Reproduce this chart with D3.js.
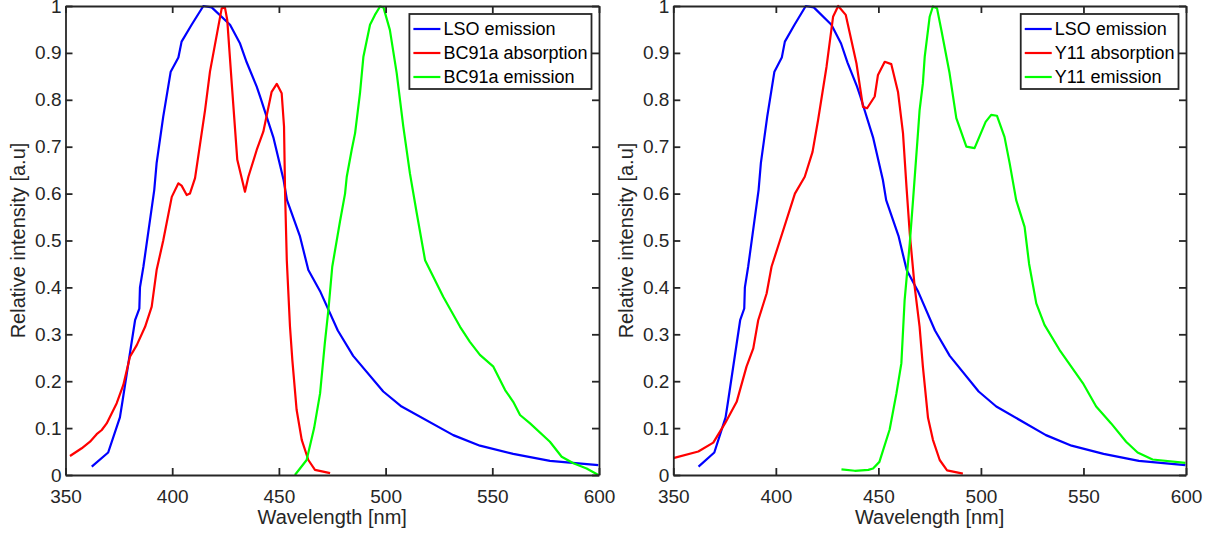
<!DOCTYPE html>
<html lang="en">
<head>
<meta charset="UTF-8">
<title>LSO / WLS spectra</title>
<script src="https://d3js.org/d3.v7.min.js"></script>
<style>
  body { margin: 0; background: #fff; }
  svg { display: block; font-family: "Liberation Sans", Arial, Helvetica, sans-serif; }
  .axis path, .axis line { stroke: #262626; stroke-width: 1.8; }
  .axis text { fill: #262626; font-size: 19px; font-family: "Liberation Sans", Arial, Helvetica, sans-serif; }
  .label { fill: #262626; font-size: 20px; }
  .legend text { fill: #000; font-size: 18px; }
  .curve { fill: none; stroke-width: 2.2; stroke-linejoin: round; }
</style>
</head>
<body>
<script>
// LSO emission (same in both panels)
var lsoWl  = [362.3, 370, 375.5, 376.8, 382.6, 384.6, 384.9, 386.5, 391.6, 392.7, 395.8, 399.3, 402.9, 404.4, 409.1, 414.6, 418.5, 427.1, 431.8, 434.9, 439.6, 441.2, 447.4, 452.2, 453.8, 459.8, 463.8, 469.5, 477.6, 484.8, 498.9, 507.5, 531.7, 544.2, 559.8, 577, 599.7];
var lsoVal = [0.018, 0.048, 0.123, 0.16, 0.33, 0.355, 0.40, 0.444, 0.608, 0.665, 0.764, 0.86, 0.89, 0.924, 0.96, 1.0, 0.997, 0.96, 0.92, 0.88, 0.828, 0.807, 0.72, 0.629, 0.586, 0.51, 0.437, 0.39, 0.308, 0.254, 0.178, 0.146, 0.085, 0.0625, 0.045, 0.03, 0.021];

// BC91a absorption
var bcAbsWl  = [352.1, 357.6, 361.5, 364.6, 367, 369.3, 374, 377.1, 380.2, 383.4, 387.3, 390.4, 392.7, 395.8, 399.8, 402.9, 404.4, 406.8, 408.3, 410.7, 413, 415.4, 417.7, 421.6, 423.2, 424.7, 425.8, 427.9, 430.5, 434.1, 435.7, 439.6, 442.7, 446.6, 449, 451.3, 452.4, 452.9, 453.7, 455.2, 456.3, 458.3, 460.7, 463.8, 466.9, 474];
var bcAbsVal = [0.0405, 0.057, 0.071, 0.087, 0.096, 0.11, 0.153, 0.192, 0.252, 0.277, 0.316, 0.359, 0.437, 0.50, 0.593, 0.622, 0.617, 0.597, 0.60, 0.633, 0.704, 0.778, 0.86, 0.956, 0.995, 0.997, 0.97, 0.835, 0.672, 0.604, 0.636, 0.693, 0.732, 0.817, 0.834, 0.814, 0.743, 0.60, 0.458, 0.316, 0.245, 0.139, 0.075, 0.032, 0.011, 0.004];

// BC91a emission
var bcEmWl  = [457.5, 463, 466.5, 469.3, 471.5, 473.2, 475, 478.6, 481, 481.8, 484.1, 485.7, 488, 489.6, 492.7, 495, 497.4, 499, 502, 505.2, 508.3, 511.4, 514.6, 518.5, 527, 534.9, 539.5, 544.2, 550.5, 556, 559.8, 563, 567.7, 577, 582.5, 588, 594.2, 599.7];
var bcEmVal = [0, 0.032, 0.10, 0.174, 0.28, 0.352, 0.444, 0.54, 0.60, 0.636, 0.693, 0.729, 0.814, 0.892, 0.96, 0.981, 0.999, 0.997, 0.949, 0.857, 0.743, 0.643, 0.558, 0.458, 0.38, 0.316, 0.284, 0.256, 0.231, 0.181, 0.156, 0.128, 0.11, 0.071, 0.039, 0.025, 0.014, 0];

// Y11 absorption
var yAbsWl  = [350, 362.2, 369.5, 375.2, 380.9, 385.7, 389, 391.4, 395.5, 397.9, 402, 409.3, 414.1, 417.9, 420.6, 424.7, 427.9, 430.4, 434.1, 439.3, 442.5, 444.5, 448.2, 449.8, 453.1, 456.3, 459.6, 462, 463.7, 465.3, 467.7, 470.1, 471.7, 474.2, 476.6, 479.9, 483.5, 491.2];
var yAbsVal = [0.036, 0.05, 0.069, 0.11, 0.156, 0.231, 0.27, 0.33, 0.387, 0.444, 0.50, 0.60, 0.636, 0.689, 0.757, 0.87, 0.977, 1.0, 0.981, 0.878, 0.785, 0.782, 0.807, 0.853, 0.881, 0.876, 0.816, 0.729, 0.615, 0.515, 0.401, 0.316, 0.231, 0.122, 0.075, 0.032, 0.01, 0.003];

// Y11 emission
var yEmWl  = [432, 438.5, 445.1, 447.4, 450.5, 455.5, 458.8, 461.2, 462.8, 465.3, 466.9, 469.3, 470.1, 471.7, 472.6, 475, 476.6, 478.6, 480.7, 484.7, 488, 492.9, 496.9, 502.3, 505, 507.8, 511.5, 514, 517.2, 521.3, 523.5, 527, 531, 538.3, 549.7, 556.2, 563.5, 570.8, 576.4, 583.7, 599.7];
var yEmVal = [0.012, 0.009, 0.011, 0.014, 0.028, 0.097, 0.174, 0.238, 0.373, 0.494, 0.586, 0.729, 0.778, 0.835, 0.892, 0.977, 0.999, 0.995, 0.949, 0.857, 0.761, 0.70, 0.697, 0.753, 0.768, 0.766, 0.721, 0.665, 0.586, 0.529, 0.45, 0.366, 0.32, 0.267, 0.196, 0.146, 0.11, 0.071, 0.048, 0.033, 0.026];

var xTicks = [350, 400, 450, 500, 550, 600];
var yTicks = [0, 0.1, 0.2, 0.3, 0.4, 0.5, 0.6, 0.7, 0.8, 0.9, 1];

var panels = [
  { left: 65.5, right: 599, labelX: 25,
    series: [
      { name: "LSO emission", wl: lsoWl, val: lsoVal, color: "#0000ff" },
      { name: "BC91a absorption", wl: bcAbsWl, val: bcAbsVal, color: "#ff0000" },
      { name: "BC91a emission", wl: bcEmWl, val: bcEmVal, color: "#00ff00" }
    ] },
  { left: 673.3, right: 1186, labelX: 633,
    series: [
      { name: "LSO emission", wl: lsoWl, val: lsoVal, color: "#0000ff" },
      { name: "Y11 absorption", wl: yAbsWl, val: yAbsVal, color: "#ff0000" },
      { name: "Y11 emission", wl: yEmWl, val: yEmVal, color: "#00ff00" }
    ] }
];

var W = 1218, H = 537, plotTop = 6, plotBottom = 475, tick = 7;

var svg = d3.select("body").append("svg")
    .attr("width", W)
    .attr("height", H);

panels.forEach(function(p) {
  var x = d3.scaleLinear().domain([350, 600]).range([p.left, p.right]);
  var y = d3.scaleLinear().domain([0, 1]).range([plotBottom, plotTop]);
  var g = svg.append("g");

  // curves
  var line = d3.line()
      .x(function(d) { return x(d[0]); })
      .y(function(d) { return y(d[1]); });
  p.series.forEach(function(s) {
    g.append("path")
        .attr("class", "curve")
        .attr("stroke", s.color)
        .attr("d", line(s.wl.map(function(w, i) { return [w, s.val[i]]; })));
  });

  // box axes, ticks pointing inward
  g.append("g").attr("class", "axis")
      .attr("transform", "translate(0," + plotBottom + ")")
      .call(d3.axisBottom(x).tickValues(xTicks).tickSizeInner(-tick).tickSizeOuter(0).tickPadding(21))
      .selectAll("text").attr("dy", "0.35em");
  g.append("g").attr("class", "axis")
      .attr("transform", "translate(0," + plotTop + ")")
      .call(d3.axisTop(x).tickValues(xTicks).tickSizeInner(-tick).tickSizeOuter(0).tickFormat(""));
  g.append("g").attr("class", "axis")
      .attr("transform", "translate(" + p.left + ",0)")
      .call(d3.axisLeft(y).tickValues(yTicks).tickSizeInner(-tick).tickSizeOuter(0).tickPadding(4)
        .tickFormat(function(d) { return d === 0 || d === 1 ? d3.format("d")(d) : d3.format(".1f")(d); }));
  g.append("g").attr("class", "axis")
      .attr("transform", "translate(" + p.right + ",0)")
      .call(d3.axisRight(y).tickValues(yTicks).tickSizeInner(-tick).tickSizeOuter(0).tickFormat(""));

  // axis labels
  g.append("text")
      .attr("class", "label")
      .attr("x", (p.left + p.right) / 2)
      .attr("y", 524)
      .attr("text-anchor", "middle")
      .text("Wavelength [nm]");
  g.append("text")
      .attr("class", "label")
      .attr("transform", "translate(" + p.labelX + "," + ((plotTop + plotBottom) / 2) + ") rotate(-90)")
      .attr("text-anchor", "middle")
      .text("Relative intensity [a.u]");

  // legend
  var lg = g.append("g").attr("class", "legend");
  var box = lg.append("rect")
      .attr("fill", "#fff")
      .attr("stroke", "#262626")
      .attr("stroke-width", 1.8);
  var maxW = 0;
  p.series.forEach(function(s, i) {
    var t = lg.append("text")
        .attr("x", 34)
        .attr("y", 15 + i * 24)
        .attr("dy", "0.35em")
        .text(s.name);
    maxW = Math.max(maxW, t.node().getComputedTextLength());
    lg.append("line")
        .attr("x1", 4).attr("x2", 31)
        .attr("y1", 15 + i * 24).attr("y2", 15 + i * 24)
        .attr("stroke", s.color)
        .attr("stroke-width", 2.2);
  });
  var bw = 34 + maxW + 4;
  box.attr("width", bw).attr("height", 75);
  lg.attr("transform", "translate(" + (p.right - 7.5 - bw) + "," + (plotTop + 8) + ")");
});
</script>
</body>
</html>
